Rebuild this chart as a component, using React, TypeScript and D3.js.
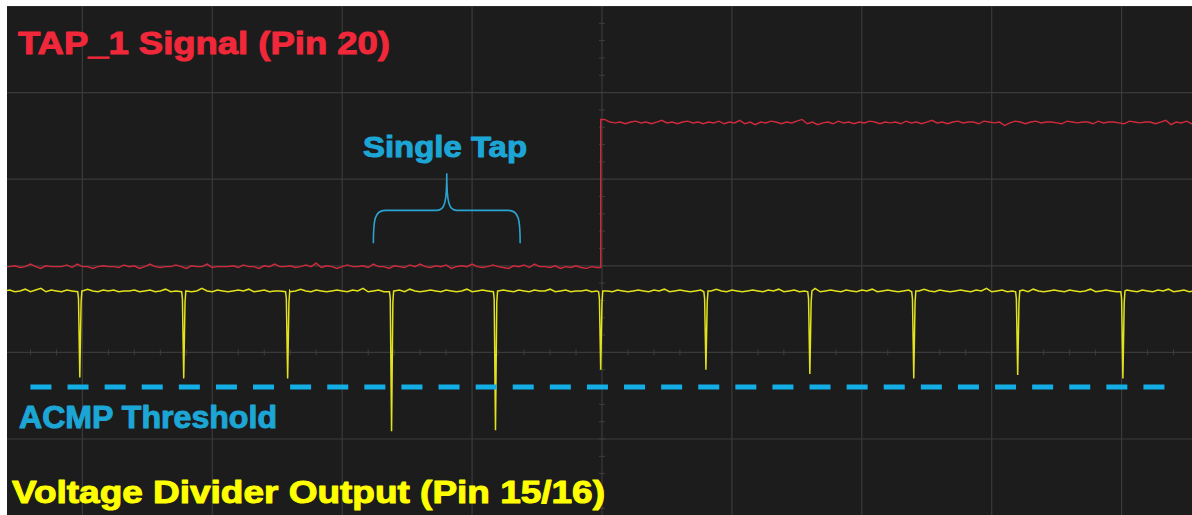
import React, { useEffect, useRef } from 'react';
import * as d3 from 'd3';

// time axis in divisions (0 = screen centre), vertical axis in divisions (0 = centre line)
const gridTimes = [-4, -3, -2, -1, 0, 1, 2, 3, 4];
const gridLevels = [-1, 0, 1, 2, 3, 4];
const minorStep = 0.2;

const sampleStep = 0.04;

// TAP_1 before the edge
const redLowStart = -4.6;
const redLow = [
  0.99, 0.99, 1.0, 0.98, 0.99, 1.02, 0.99, 0.97, 1.0, 0.99, 0.99, 0.99, 1.01, 0.98, 1.02, 0.99, 0.99, 0.97, 0.99, 1.0,
  0.99, 0.99, 0.98, 1.01, 0.99, 1.0, 0.97, 0.99, 1.02, 0.99, 0.98, 0.99, 0.99, 1.01, 0.99, 0.97, 1.0, 0.99, 0.99, 1.02,
  0.98, 0.99, 0.99, 0.99, 1.0, 0.98, 1.01, 0.99, 0.99, 0.97, 1.0, 0.99, 1.02, 0.99, 0.99, 1.0, 0.98, 0.99, 1.01, 0.99,
  1.03, 0.98, 1.0, 0.99, 0.97, 0.99, 1.01, 0.99, 0.99, 1.0, 0.98, 1.02, 0.99, 0.99, 0.97, 1.0, 0.99, 0.98, 1.01, 0.99,
  1.02, 0.99, 0.98, 1.0, 0.99, 1.01, 0.97, 0.99, 1.0, 0.99, 1.02, 0.99, 0.98, 0.99, 1.01, 0.99, 0.98, 0.97, 1.0, 0.99,
  1.01, 0.98, 1.02, 0.99, 0.99, 0.98, 1.0, 0.97, 0.99, 0.98, 1.0, 0.98, 0.97, 0.99, 0.98,
];

// TAP_1 after the edge
const edgeTime = -0.01;
const redHighStart = 0.02;
const redHigh = [
  2.69, 2.66, 2.65, 2.66, 2.64, 2.66, 2.67, 2.65, 2.66, 2.64, 2.66, 2.68, 2.65, 2.66, 2.64, 2.66, 2.67, 2.65, 2.66, 2.64,
  2.66, 2.65, 2.67, 2.64, 2.66, 2.65, 2.68, 2.64, 2.66, 2.63, 2.66, 2.65, 2.67, 2.66, 2.64, 2.66, 2.65, 2.67, 2.69, 2.64,
  2.66, 2.63, 2.65, 2.66, 2.64, 2.67, 2.65, 2.66, 2.64, 2.66, 2.65, 2.67, 2.66, 2.64, 2.66, 2.65, 2.66, 2.64, 2.67, 2.65,
  2.66, 2.64, 2.66, 2.68, 2.65, 2.66, 2.64, 2.66, 2.67, 2.65, 2.66, 2.66, 2.64, 2.67, 2.66, 2.65, 2.66, 2.62, 2.65, 2.67,
  2.66, 2.64, 2.66, 2.67, 2.65, 2.66, 2.66, 2.65, 2.64, 2.67, 2.66, 2.65, 2.66, 2.66, 2.64, 2.67, 2.65, 2.66, 2.66, 2.65,
  2.64, 2.67, 2.66, 2.65, 2.66, 2.66, 2.64, 2.66, 2.68, 2.63, 2.66, 2.65, 2.67, 2.64, 2.66,
];

// voltage divider baseline
const yellowStart = -4.6;
const yellowBase = [
  0.71, 0.72, 0.7, 0.71, 0.73, 0.7, 0.72, 0.74, 0.7, 0.72, 0.71, 0.7, 0.72, 0.71, 0.7, 0.71, 0.73, 0.71, 0.7, 0.72,
  0.71, 0.72, 0.7, 0.71, 0.71, 0.72, 0.7, 0.71, 0.72, 0.7, 0.71, 0.73, 0.7, 0.71, 0.72, 0.71, 0.7, 0.71, 0.74, 0.71,
  0.7, 0.72, 0.71, 0.7, 0.71, 0.72, 0.71, 0.73, 0.7, 0.71, 0.72, 0.7, 0.71, 0.71, 0.72, 0.7, 0.71, 0.73, 0.71, 0.7,
  0.72, 0.71, 0.7, 0.71, 0.72, 0.71, 0.7, 0.72, 0.71, 0.74, 0.7, 0.71, 0.72, 0.7, 0.71, 0.71, 0.72, 0.7, 0.73, 0.71,
  0.7, 0.71, 0.72, 0.71, 0.7, 0.72, 0.71, 0.7, 0.71, 0.73, 0.7, 0.71, 0.72, 0.71, 0.7, 0.71, 0.72, 0.71, 0.7, 0.72,
  0.71, 0.7, 0.72, 0.71, 0.71, 0.73, 0.7, 0.71, 0.72, 0.7, 0.71, 0.71, 0.72, 0.7, 0.71, 0.74, 0.71, 0.7, 0.72, 0.71,
  0.7, 0.71, 0.72, 0.71, 0.7, 0.72, 0.71, 0.73, 0.7, 0.71, 0.72, 0.71, 0.7, 0.71, 0.72, 0.7, 0.71, 0.73, 0.71, 0.7,
  0.72, 0.71, 0.7, 0.71, 0.72, 0.71, 0.7, 0.72, 0.71, 0.73, 0.7, 0.71, 0.72, 0.7, 0.71, 0.71, 0.74, 0.7, 0.71, 0.72,
  0.71, 0.7, 0.72, 0.71, 0.7, 0.72, 0.71, 0.73, 0.7, 0.71, 0.72, 0.71, 0.7, 0.71, 0.72, 0.7, 0.71, 0.73, 0.71, 0.7,
  0.72, 0.71, 0.7, 0.71, 0.72, 0.71, 0.7, 0.72, 0.71, 0.74, 0.7, 0.71, 0.72, 0.7, 0.71, 0.71, 0.72, 0.7, 0.73, 0.71,
  0.7, 0.71, 0.72, 0.71, 0.7, 0.72, 0.71, 0.7, 0.71, 0.73, 0.7, 0.71, 0.72, 0.71, 0.7, 0.71, 0.72, 0.71, 0.7, 0.72,
  0.71, 0.7, 0.72, 0.71, 0.73, 0.7, 0.71, 0.72, 0.7, 0.71,
];

// dips of the divider output
const spikeTimes = [-4.02, -3.22, -2.42, -1.62, -0.82, -0.01, 0.8, 1.6, 2.4, 3.2, 4.01];
const spikeMins = [-0.29, -0.3, -0.3, -0.91, -0.9, -0.2, -0.2, -0.25, -0.3, -0.26, -0.3];

const threshold = -0.4;
const thresholdRange = [-4.4, 4.4];
const tapRange = [-1.76, -0.63];

const W = 1192;
const H = 515;

const App = () => {
  const svgRef = useRef<SVGSVGElement>(null);

  useEffect(() => {
    const svg = d3.select(svgRef.current).attr('width', W).attr('height', H);
    svg.selectAll('*').remove();

    const plot = { left: 7, top: 6, right: W, bottom: H };
    const divX = 129.9;
    const divY = 86.6;
    const cx = 602;
    const cy = plot.top + 4 * divY;

    const x = d3.scaleLinear().domain([-5, 5]).range([cx - 5 * divX, cx + 5 * divX]);
    const y = d3.scaleLinear().domain([-4, 4]).range([cy + 4 * divY, cy - 4 * divY]);

    svg.append('rect').attr('width', W).attr('height', H).attr('fill', '#ffffff');

    svg.append('defs').append('clipPath').attr('id', 'plotClip')
      .append('rect')
      .attr('x', plot.left).attr('y', plot.top)
      .attr('width', plot.right - plot.left).attr('height', plot.bottom - plot.top);

    const g = svg.append('g').attr('clip-path', 'url(#plotClip)');

    g.append('rect')
      .attr('x', plot.left).attr('y', plot.top)
      .attr('width', plot.right - plot.left).attr('height', plot.bottom - plot.top)
      .attr('fill', '#1c1c1c');

    // grid
    g.selectAll('.vgrid').data(gridTimes).enter().append('line')
      .attr('x1', d => x(d)).attr('x2', d => x(d))
      .attr('y1', plot.top).attr('y2', plot.bottom)
      .attr('stroke', '#3a3a3a').attr('stroke-width', 1.2);

    g.selectAll('.hgrid').data(gridLevels).enter().append('line')
      .attr('x1', plot.left).attr('x2', plot.right)
      .attr('y1', d => y(d)).attr('y2', d => y(d))
      .attr('stroke', '#3a3a3a').attr('stroke-width', 1.2);

    // minor ticks on the centre lines
    const hTicks = d3.range(-5, 5.001, minorStep);
    g.selectAll('.htick').data(hTicks).enter().append('line')
      .attr('x1', d => x(d)).attr('x2', d => x(d))
      .attr('y1', y(0) - 3).attr('y2', y(0) + 3)
      .attr('stroke', '#3e3e3e').attr('stroke-width', 1);

    const vTicks = d3.range(-4, 4.001, minorStep);
    g.selectAll('.vtick').data(vTicks).enter().append('line')
      .attr('x1', x(0) - 3).attr('x2', x(0) + 3)
      .attr('y1', d => y(d)).attr('y2', d => y(d))
      .attr('stroke', '#3e3e3e').attr('stroke-width', 1);

    const line = d3.line<[number, number]>()
      .x(d => x(d[0]))
      .y(d => y(d[1]));

    // red trace
    const redPts: [number, number][] = [];
    redLow.forEach((v, i) => redPts.push([redLowStart + i * sampleStep, v]));
    redPts.push([edgeTime, redLow[redLow.length - 1]]);
    redPts.push([edgeTime, redHigh[0]]);
    redHigh.forEach((v, i) => redPts.push([redHighStart + i * sampleStep, v]));

    g.append('path')
      .attr('d', line(redPts))
      .attr('fill', 'none')
      .attr('stroke', '#d12a3c')
      .attr('stroke-width', 1.4);

    // yellow trace
    const yellowPts: [number, number][] = yellowBase
      .map((v, i) => [yellowStart + i * sampleStep, v] as [number, number])
      .filter(p => spikeTimes.every(s => Math.abs(p[0] - s) > 0.02));
    spikeTimes.forEach((s, i) => {
      yellowPts.push([s - 0.016, 0.7]);
      yellowPts.push([s - 0.01, 0.62]);
      yellowPts.push([s, spikeMins[i]]);
      yellowPts.push([s + 0.01, 0.58]);
      yellowPts.push([s + 0.016, 0.71]);
    });
    yellowPts.sort((a, b) => a[0] - b[0]);

    g.append('path')
      .attr('d', line(yellowPts))
      .attr('fill', 'none')
      .attr('stroke', '#e2e21e')
      .attr('stroke-width', 1.5);

    // ACMP threshold
    g.append('line')
      .attr('x1', x(thresholdRange[0])).attr('x2', x(thresholdRange[1]))
      .attr('y1', y(threshold)).attr('y2', y(threshold))
      .attr('stroke', '#14aee6')
      .attr('stroke-width', 5)
      .attr('stroke-dasharray', '21,16.1');

    // brace over the single tap
    const bx0 = x(tapRange[0]);
    const bx1 = x(tapRange[1]);
    const bm = (bx0 + bx1) / 2;
    const yEnd = y(1.26);
    const yMid = y(1.64);
    const yTip = y(2.07);
    const brace = d3.path();
    brace.moveTo(bx0, yEnd);
    brace.bezierCurveTo(bx0, yMid + 10, bx0 + 1, yMid, bx0 + 12, yMid);
    brace.lineTo(bm - 10, yMid);
    brace.bezierCurveTo(bm - 2, yMid, bm, yMid - 8, bm, yTip);
    brace.bezierCurveTo(bm, yMid - 8, bm + 2, yMid, bm + 10, yMid);
    brace.lineTo(bx1 - 12, yMid);
    brace.bezierCurveTo(bx1 - 1, yMid, bx1, yMid + 10, bx1, yEnd);
    g.append('path')
      .attr('d', brace.toString())
      .attr('fill', 'none')
      .attr('stroke', '#2ba3cf')
      .attr('stroke-width', 1.6);

    // labels
    const labels = [
      { text: 'TAP_1 Signal (Pin 20)', x: 18, y: 54, len: 372, size: 31, color: '#f0283a' },
      { text: 'Single Tap', x: 363, y: 157, len: 164, size: 30, color: '#1ca6d6' },
      { text: 'ACMP Threshold', x: 19, y: 428, len: 258, size: 31, color: '#1ca6d6' },
      { text: 'Voltage Divider Output (Pin 15/16)', x: 12, y: 503, len: 593, size: 31, color: '#ffff00' },
    ];
    g.selectAll('.label').data(labels).enter().append('text')
      .attr('x', d => d.x)
      .attr('y', d => d.y)
      .attr('textLength', d => d.len)
      .attr('lengthAdjust', 'spacingAndGlyphs')
      .attr('fill', d => d.color)
      .attr('stroke', d => d.color)
      .attr('stroke-width', 1)
      .attr('stroke-linejoin', 'round')
      .style('font-family', '"Liberation Sans", Arial, sans-serif')
      .style('font-weight', 'bold')
      .style('font-size', d => `${d.size}px`)
      .text(d => d.text);
  }, []);

  return (
    <svg ref={svgRef} style={{ position: 'fixed', left: 0, top: 0, display: 'block' }}></svg>
  );
};

export default App;
